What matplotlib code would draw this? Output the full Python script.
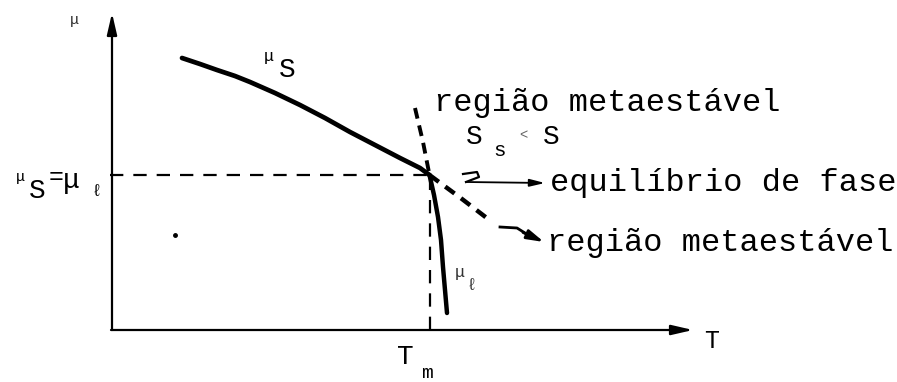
#!/usr/bin/env python
# coding: utf-8

import matplotlib
matplotlib.use("Agg")
import matplotlib.pyplot as plt

    #========= DATA ======================================================#

T_M = 6.35          # melting temperature
MU_M = 3.10         # chemical potential at equilibrium
T_MAX = 11.62       # end of the T axis
MU_MAX = 6.34       # end of the mu axis

# solid branch (stable, T < Tm)
solid_T = [1.40, 1.76, 2.10, 2.46, 2.76, 3.26, 3.76, 4.26, 4.76, 5.26, 5.76, 6.16, 6.35]
solid_mu = [5.44, 5.32, 5.20, 5.08, 4.96, 4.74, 4.50, 4.24, 3.96, 3.70, 3.44, 3.24, 3.10]

# solid branch, superheated (dashed, T > Tm)
solid_meta_T = [6.35, 7.00, 7.60]
solid_meta_mu = [3.10, 2.62, 2.16]

# liquid branch (stable, T > Tm)
liquid_T = [6.35, 6.44, 6.52, 6.58, 6.62, 6.66, 6.70]
liquid_mu = [3.10, 2.70, 2.26, 1.80, 1.26, 0.80, 0.34]

# liquid branch, undercooled (dashed, T < Tm)
liquid_meta_T = [6.06, 6.22, 6.35]
liquid_meta_mu = [4.44, 3.76, 3.10]

    #========= FIGURE ====================================================#

MONO = ["Liberation Mono", "DejaVu Sans Mono"]
INK = "black"

fig = plt.figure(figsize=(8.97, 3.82), dpi=100)
ax = fig.add_axes([0, 0, 1, 1])
ax.set_xlim(-2.24, 15.70)
ax.set_ylim(-1.04, 6.60)
ax.axis("off")

# axes with arrow heads
ax.annotate("", xy=(0, MU_MAX), xytext=(0, 0),
            arrowprops=dict(arrowstyle="-|>,head_length=1.3,head_width=0.3",
                            color=INK, lw=1.6, shrinkA=0, shrinkB=0))
ax.annotate("", xy=(T_MAX, 0), xytext=(-0.02, 0),
            arrowprops=dict(arrowstyle="-|>,head_length=1.3,head_width=0.3",
                            color=INK, lw=1.6, shrinkA=0, shrinkB=0))

# guide lines at the equilibrium point
ax.plot([-0.04, T_M], [MU_M, MU_M], color=INK, lw=1.6, dashes=(6, 4.5))
ax.plot([T_M, T_M], [0, MU_M], color=INK, lw=1.6, dashes=(6, 4.5))

# chemical potential curves
ax.plot(solid_T, solid_mu, color=INK, lw=3.4, solid_capstyle="round",
        solid_joinstyle="round")
ax.plot(liquid_T, liquid_mu, color=INK, lw=3.2, solid_capstyle="round",
        solid_joinstyle="round")
ax.plot(solid_meta_T, solid_meta_mu, color=INK, lw=3.2, dashes=(2.6, 1.8))
ax.plot(liquid_meta_T, liquid_meta_mu, color=INK, lw=2.8, dashes=(2.8, 1.8))

# stray dot
ax.plot([1.26], [1.90], "o", color=INK, ms=2.5)

# squiggle arrows to the labels
ax.plot([7.02, 7.30, 7.34, 7.08], [3.12, 3.16, 3.06, 2.96], color=INK, lw=1.6,
        solid_joinstyle="round")
ax.annotate("", xy=(8.66, 2.94), xytext=(7.08, 2.96),
            arrowprops=dict(arrowstyle="-|>,head_length=0.9,head_width=0.22",
                            color=INK, lw=1.3, shrinkA=0, shrinkB=0))
ax.plot([7.76, 8.10, 8.26], [2.06, 2.04, 1.94], color=INK, lw=2.0,
        solid_joinstyle="round")
ax.annotate("", xy=(8.64, 1.76), xytext=(8.22, 1.95),
            arrowprops=dict(arrowstyle="-|>,head_length=1.0,head_width=0.28",
                            color=INK, lw=2.0, shrinkA=0, shrinkB=0))

    #========= TEXTS =====================================================#

def label(x, y, s, size=23, **kw):
    ax.text(x, y, s, family=MONO, fontsize=size, color=INK,
            ha="left", va="center", **kw)

label(8.76, 2.94, "equilíbrio de fase")
label(8.70, 1.75, "região metaestável")
label(6.44, 4.53, "região metaestável")
label(7.08, 3.86, "S", size=20)
label(7.62, 3.60, "s", size=15)
label(8.15, 3.90, "<", size=10, alpha=0.6)
label(8.62, 3.86, "S", size=20)

label(3.04, 5.48, "μ", size=12)
label(3.34, 5.20, "S", size=20)
label(6.86, 1.14, "μ", size=12, alpha=0.8)
label(7.10, 0.90, "ℓ", size=12, alpha=0.8)

label(-1.92, 3.06, "μ", size=11)
label(-1.66, 2.78, "S", size=20)
label(-1.26, 3.06, "=", size=18)
label(-0.98, 2.98, "μ", size=20)
label(-0.40, 2.76, "ℓ", size=12)

label(-0.84, 6.20, "μ", size=11, alpha=0.8)
label(11.84, -0.22, "T", size=18)
label(5.70, -0.54, "T", size=20)
label(6.18, -0.88, "m", size=14)

plt.savefig("out.png", dpi=100)
